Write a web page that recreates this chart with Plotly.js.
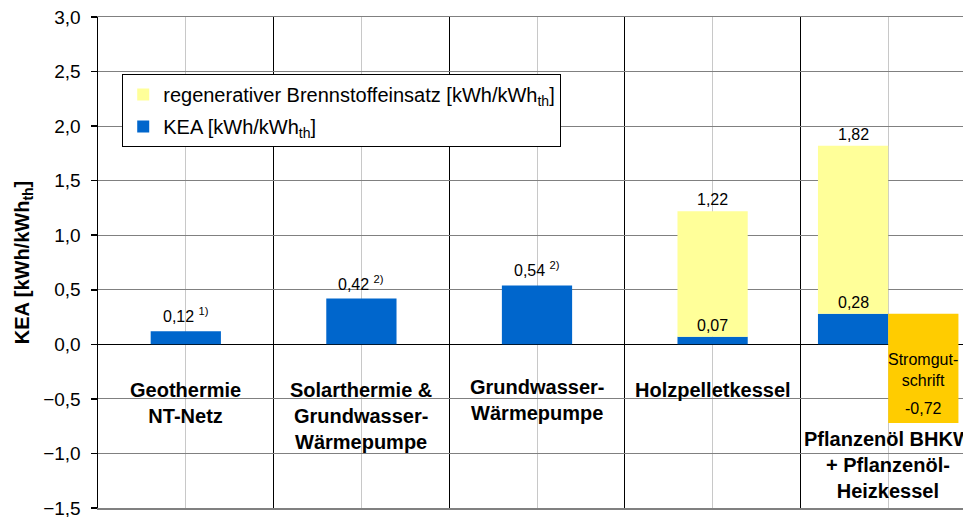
<!DOCTYPE html>
<html>
<head>
<meta charset="utf-8">
<script src="https://cdn.plot.ly/plotly-3.0.1.min.js"></script>
<style>html,body{margin:0;padding:0;background:#fff;} #chart{width:963px;height:517px;}</style>
</head>
<body>
<div id="chart"></div>
<script>
// ---- data ----
const categories = [
  'Geothermie<br>NT-Netz',
  'Solarthermie &amp;<br>Grundwasser-<br>Wärmepumpe',
  'Grundwasser-<br>Wärmepumpe',
  'Holzpelletkessel',
  'Pflanzenöl BHKW<br>+ Pflanzenöl-<br>Heizkessel'
];
const keaValues = [0.12, 0.42, 0.54, 0.07, 0.28];            // KEA [kWh/kWh_th]
const regenTotal = [null, null, null, 1.22, 1.82];            // KEA + regenerativer Brennstoffeinsatz
const footnotes = ['1)', '2)', '2)', '', ''];
const stromNet = [null, null, null, null, -0.72];             // after Stromgutschrift
const yTickVals = [-1.5, -1.0, -0.5, 0.0, 0.5, 1.0, 1.5, 2.0, 2.5, 3.0];

// ---- layout helpers ----
const BW = 0.4;
const hasCredit = stromNet.map(v => v !== null);
const xMain = categories.map((c, i) => hasCredit[i] ? i - BW / 2 : i);
const xCredit = categories.map((c, i) => hasCredit[i] ? i + BW / 2 : null);
const fmt = v => v.toFixed(2).replace('.', ',');

const idxRegen = regenTotal.map((v, i) => v !== null ? i : -1).filter(i => i >= 0);
const idxCredit = stromNet.map((v, i) => v !== null ? i : -1).filter(i => i >= 0);

const traceKEA = {
  type: 'bar', name: 'KEA [kWh/kWh<sub>th</sub>]',
  x: xMain, y: keaValues, base: keaValues.map(() => 0), width: BW,
  marker: {color: '#0066CC', line: {width: 0}},
  legendrank: 2, legendgroup: 'b', hoverinfo: 'skip'
};
const traceRegen = {
  type: 'bar', name: 'regenerativer Brennstoffeinsatz [kWh/kWh<sub>th</sub>]',
  x: idxRegen.map(i => xMain[i]),
  y: idxRegen.map(i => regenTotal[i] - keaValues[i]),
  base: idxRegen.map(i => keaValues[i]), width: BW,
  marker: {color: '#FFFF99', line: {width: 0}},
  legendrank: 1, legendgroup: 'a', hoverinfo: 'skip'
};
const traceCredit = {
  type: 'bar', name: 'Stromgutschrift',
  x: idxCredit.map(i => xCredit[i]),
  y: idxCredit.map(i => stromNet[i] - keaValues[i]),
  base: idxCredit.map(i => keaValues[i]), width: BW,
  marker: {color: '#FFCC00', line: {width: 0}},
  showlegend: false, hoverinfo: 'skip'
};

const FAM = 'Liberation Sans, Arial, sans-serif';
const lblFont = {family: FAM, size: 16, color: '#000'};
const catFont = {family: FAM, size: 20, color: '#000'};
const annotations = [];
// value labels
categories.forEach((c, i) => {
  const onlyKEA = regenTotal[i] === null;
  annotations.push({
    x: xMain[i], y: keaValues[i], xref: 'x', yref: 'y',
    text: fmt(keaValues[i]) + (footnotes[i] ? ' <sup>' + footnotes[i] + '</sup>' : ''),
    showarrow: false, yanchor: 'bottom', yshift: onlyKEA ? 4 : 1, font: lblFont
  });
  if (!onlyKEA) {
    annotations.push({
      x: xMain[i], y: regenTotal[i], xref: 'x', yref: 'y', text: fmt(regenTotal[i]),
      showarrow: false, yanchor: 'bottom', yshift: 1, font: lblFont
    });
  }
});
idxCredit.forEach(i => {
  annotations.push({x: xCredit[i], y: 0, xref: 'x', yref: 'y', text: 'Stromgut-<br>schrift',
    showarrow: false, yanchor: 'top', yshift: -5, font: lblFont});
  annotations.push({x: xCredit[i], y: stromNet[i], xref: 'x', yref: 'y', text: fmt(stromNet[i]),
    showarrow: false, yanchor: 'bottom', yshift: 4, font: lblFont});
});
// category labels (placed inside plot area)
const catY = [-0.30, -0.30, -0.27, -0.30, -0.75];
categories.forEach((c, i) => {
  annotations.push({x: i, y: catY[i], xref: 'x', yref: 'y', text: '<b>' + c + '</b>',
    showarrow: false, yanchor: 'top', xanchor: 'center', font: catFont});
});

const boundaries = [];
for (let i = 0; i <= categories.length; i++) boundaries.push(i - 0.5);

const layout = {
  width: 963, height: 517,
  margin: {l: 98, r: 0, t: 17, b: 9, pad: 0},
  paper_bgcolor: '#fff', plot_bgcolor: '#fff',
  separators: ',.',
  barmode: 'overlay',
  font: {family: FAM, color: '#000'},
  xaxis: {
    range: [-0.5, 4.426], tickmode: 'array', tickvals: boundaries, ticktext: boundaries.map(() => ''),
    showgrid: true, gridcolor: '#000', gridwidth: 1, zeroline: false, ticks: '',
    showline: true, mirror: true, linecolor: '#808080', linewidth: 1.5, fixedrange: true,
    minor: {tickmode: 'array', tickvals: categories.map((c, i) => i), showgrid: true, gridcolor: '#C8C8C8', gridwidth: 1, ticks: ''}
  },
  yaxis: {
    range: [-1.5, 3.0], tickmode: 'array', tickvals: yTickVals, tickformat: '.1f',
    showgrid: true, gridcolor: '#808080', gridwidth: 1,
    zeroline: true, zerolinecolor: '#000', zerolinewidth: 1.5,
    showline: true, linecolor: '#000', linewidth: 1.5,
    ticks: 'outside', ticklen: 6, tickcolor: '#000', tickwidth: 1.5,
    ticklabelstandoff: 6, ticklabeloverflow: 'allow',
    tickfont: {size: 19, color: '#000'},
    title: {text: '<b>KEA [kWh/kWh<sub>th</sub>]</b>', font: {size: 20, color: '#000'}, standoff: 8}
  },
  legend: {
    x: 0.028, y: 0.884, xanchor: 'left', yanchor: 'top',
    bgcolor: '#fff', bordercolor: '#000', borderwidth: 1,
    font: {size: 20, color: '#000'}, traceorder: 'grouped', tracegroupgap: 3
  },
  annotations: annotations,
  showlegend: true
};

Plotly.newPlot('chart', [traceKEA, traceRegen, traceCredit], layout, {staticPlot: true, displayModeBar: false});
</script>
</body>
</html>
